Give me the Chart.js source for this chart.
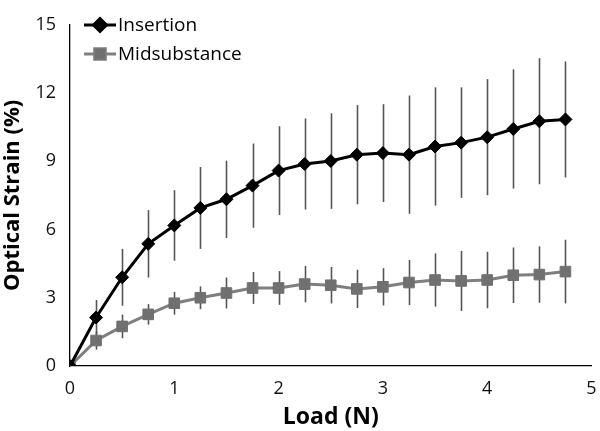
<!DOCTYPE html>
<html>
<head>
<meta charset="utf-8">
<script src="https://cdn.jsdelivr.net/npm/chart.js@4"></script>
<style>
  html, body { margin: 0; padding: 0; background: #fff; }
  #wrap { width: 600px; height: 431px; }
</style>
</head>
<body>
<div id="wrap"><canvas id="strainChart" width="600" height="431"></canvas></div>
<script>
// Load (N) steps
const loads = [0, 0.25, 0.5, 0.75, 1, 1.25, 1.5, 1.75, 2, 2.25, 2.5, 2.75, 3, 3.25, 3.5, 3.75, 4, 4.25, 4.5, 4.75];

// Insertion strain (%) and its error (±)
const insertion = [0, 2.13, 3.9, 5.37, 6.18, 6.95, 7.33, 7.93, 8.59, 8.88, 9.01, 9.29, 9.36, 9.29, 9.65, 9.82, 10.06, 10.42, 10.76, 10.84];
const insertionErr = [0, 0.77, 1.25, 1.48, 1.55, 1.8, 1.7, 1.85, 1.95, 2.0, 2.1, 2.18, 2.15, 2.6, 2.6, 2.43, 2.55, 2.62, 2.77, 2.55];

// Midsubstance strain (%) and its error (±)
const midsubstance = [0, 1.12, 1.74, 2.27, 2.76, 3.0, 3.21, 3.43, 3.43, 3.6, 3.55, 3.39, 3.48, 3.67, 3.78, 3.74, 3.78, 3.99, 4.02, 4.15];
const midsubstanceErr = [0, 0.4, 0.52, 0.45, 0.5, 0.5, 0.68, 0.7, 0.74, 0.8, 0.8, 0.84, 0.82, 0.99, 1.17, 1.32, 1.24, 1.22, 1.24, 1.4];

// Axis ticks
const xTicks = [0, 1, 2, 3, 4, 5];
const yTicks = [0, 3, 6, 9, 12, 15];

const fontFamily = "'Open Sans', 'Liberation Sans', sans-serif";

// Function to pair x and y values for the line datasets
function toPoints(ys) {
    return loads.map((x, i) => ({ x: x, y: ys[i] }));
}

// Vertical error bars, drawn behind the lines/markers
const errorBars = {
    id: 'errorBars',
    beforeDatasetsDraw(chart) {
        const ctx = chart.ctx;
        const xs = chart.scales.x;
        const ys = chart.scales.y;
        const sets = [[insertion, insertionErr], [midsubstance, midsubstanceErr]];
        ctx.save();
        ctx.strokeStyle = '#555555';
        ctx.lineWidth = 1.6;
        sets.forEach(([vals, errs]) => {
            vals.forEach((v, i) => {
                if (!errs[i]) return;
                const px = Math.round(xs.getPixelForValue(loads[i])) + 0.5;
                ctx.beginPath();
                ctx.moveTo(px, ys.getPixelForValue(v + errs[i]));
                ctx.lineTo(px, ys.getPixelForValue(v - errs[i]));
                ctx.stroke();
            });
        });
        ctx.restore();
    }
};

// Legend in the top-left corner of the plot, Excel-style
const insideLegend = {
    id: 'insideLegend',
    afterDraw(chart) {
        const ctx = chart.ctx;
        const items = chart.data.datasets;
        ctx.save();
        ctx.font = '19px ' + fontFamily;
        ctx.textBaseline = 'middle';
        items.forEach((ds, i) => {
            const y = 25 + i * 29;
            ctx.strokeStyle = ds.borderColor;
            ctx.lineWidth = 3;
            ctx.beginPath();
            ctx.moveTo(84, y);
            ctx.lineTo(116, y);
            ctx.stroke();
            Chart.helpers.drawPoint(ctx, {
                pointStyle: ds.pointStyle,
                radius: ds.pointRadius,
                borderWidth: 1
            }, 100, y);
            ctx.fillStyle = ds.pointBackgroundColor;
            ctx.strokeStyle = ds.pointBorderColor;
            ctx.fill();
            ctx.fillStyle = '#000';
            ctx.fillText(ds.label, 118, y + 1);
        });
        ctx.restore();
    }
};

const ctx = document.getElementById('strainChart').getContext('2d');
new Chart(ctx, {
    type: 'scatter',
    data: {
        datasets: [
            {
                label: 'Insertion',
                data: toPoints(insertion),
                showLine: true,
                borderColor: '#000000',
                borderWidth: 3,
                pointStyle: 'rectRot',
                pointRadius: 6.5,
                pointBackgroundColor: '#000000',
                pointBorderColor: '#000000',
                pointBorderWidth: 1,
                order: 1
            },
            {
                label: 'Midsubstance',
                data: toPoints(midsubstance),
                showLine: true,
                borderColor: '#7f7f7f',
                borderWidth: 3,
                pointStyle: 'rect',
                pointRadius: 7.5,
                pointBackgroundColor: '#707070',
                pointBorderColor: '#707070',
                pointBorderWidth: 1,
                order: 2
            }
        ]
    },
    options: {
        responsive: false,
        animation: false,
        layout: { padding: { top: 9, right: 0, left: 0, bottom: 0 } },
        plugins: {
            legend: { display: false },
            tooltip: { enabled: false }
        },
        scales: {
            x: {
                type: 'linear',
                min: 0,
                max: 5,
                afterBuildTicks: axis => { axis.ticks = xTicks.map(v => ({ value: v })); },
                afterFit: axis => {
                    axis.height = 65;
                    // let the "5" label hang off the edge like the original
                    axis.paddingRight = 0;
                    axis.paddingLeft = 0;
                },
                grid: { display: false, drawTicks: false },
                border: { color: '#000', width: 1.3 },
                ticks: { color: '#111', padding: 12, maxRotation: 0, font: { size: 18, family: fontFamily } },
                title: {
                    display: true,
                    text: 'Load (N)',
                    color: '#000',
                    padding: { top: 1, bottom: 0 },
                    font: { size: 23, weight: 'bold', family: fontFamily }
                }
            },
            y: {
                type: 'linear',
                min: 0,
                max: 15,
                afterBuildTicks: axis => { axis.ticks = yTicks.map(v => ({ value: v })); },
                afterFit: axis => { axis.width = 70; },
                grid: { display: false, drawTicks: false },
                border: { color: '#000', width: 1.3 },
                ticks: { color: '#111', padding: 14, font: { size: 18, family: fontFamily } },
                title: {
                    display: true,
                    text: 'Optical Strain (%)',
                    color: '#000',
                    padding: { top: 0, bottom: 3 },
                    font: { size: 22, weight: 'bold', family: fontFamily }
                }
            }
        }
    },
    plugins: [errorBars, insideLegend]
});
</script>
</body>
</html>
